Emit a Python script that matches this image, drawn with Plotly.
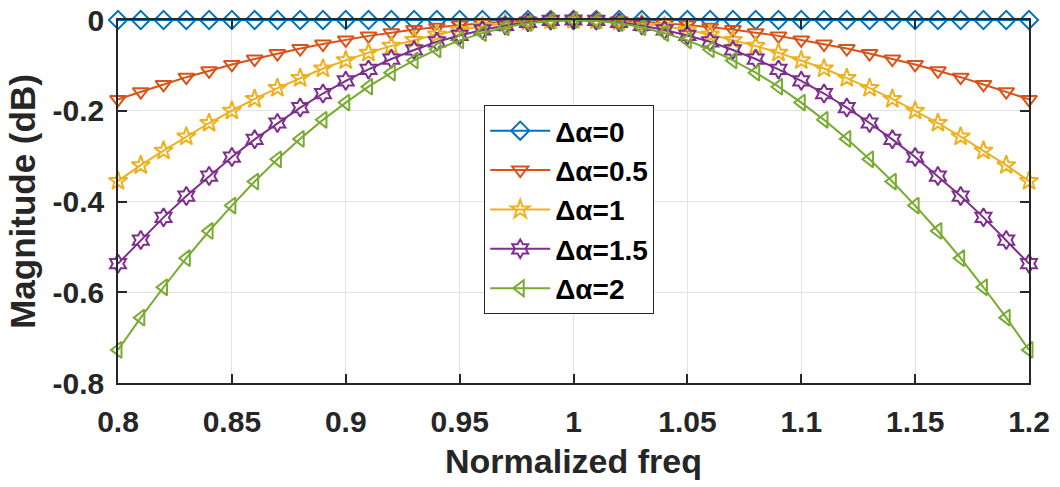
import plotly.graph_objects as go

freq = [0.80, 0.81, 0.82, 0.83, 0.84, 0.85, 0.86, 0.87, 0.88, 0.89, 0.90,
        0.91, 0.92, 0.93, 0.94, 0.95, 0.96, 0.97, 0.98, 0.99, 1.00,
        1.01, 1.02, 1.03, 1.04, 1.05, 1.06, 1.07, 1.08, 1.09, 1.10,
        1.11, 1.12, 1.13, 1.14, 1.15, 1.16, 1.17, 1.18, 1.19, 1.20]

mag_0 = [0.0] * 41

mag_05 = [-0.175, -0.158, -0.142, -0.126, -0.112, -0.098, -0.086, -0.074, -0.063, -0.053, -0.044,
          -0.035, -0.028, -0.021, -0.016, -0.011, -0.007, -0.004, -0.002, -0.0004, 0.0,
          -0.0004, -0.002, -0.004, -0.007, -0.011, -0.016, -0.021, -0.028, -0.035, -0.044,
          -0.053, -0.063, -0.074, -0.086, -0.098, -0.112, -0.126, -0.142, -0.158, -0.175]

mag_1 = [-0.355, -0.320, -0.288, -0.257, -0.227, -0.200, -0.174, -0.150, -0.128, -0.107, -0.089,
         -0.072, -0.057, -0.044, -0.032, -0.022, -0.014, -0.008, -0.004, -0.001, 0.0,
         -0.001, -0.004, -0.008, -0.014, -0.022, -0.032, -0.044, -0.057, -0.072, -0.089,
         -0.107, -0.128, -0.150, -0.174, -0.200, -0.227, -0.257, -0.288, -0.320, -0.355]

mag_15 = [-0.537, -0.485, -0.435, -0.388, -0.344, -0.302, -0.263, -0.227, -0.193, -0.162, -0.134,
          -0.109, -0.086, -0.066, -0.048, -0.034, -0.022, -0.012, -0.005, -0.001, 0.0,
          -0.001, -0.005, -0.012, -0.022, -0.034, -0.048, -0.066, -0.086, -0.109, -0.134,
          -0.162, -0.193, -0.227, -0.263, -0.302, -0.344, -0.388, -0.435, -0.485, -0.537]

mag_2 = [-0.727, -0.656, -0.589, -0.525, -0.465, -0.409, -0.356, -0.307, -0.262, -0.220, -0.182,
         -0.147, -0.116, -0.089, -0.065, -0.045, -0.029, -0.016, -0.007, -0.002, 0.0,
         -0.002, -0.007, -0.016, -0.029, -0.045, -0.065, -0.089, -0.116, -0.147, -0.182,
         -0.220, -0.262, -0.307, -0.356, -0.409, -0.465, -0.525, -0.589, -0.656, -0.727]

names = ["Δα=0", "Δα=0.5", "Δα=1", "Δα=1.5", "Δα=2"]
series = [mag_0, mag_05, mag_1, mag_15, mag_2]
colors = ["#0072BD", "#D95319", "#EDB120", "#7E2F8E", "#77AC30"]
symbols = ["diamond-open", "triangle-down-open", "star-open", "hexagram-open", "triangle-left-open"]

x_ticks = [0.8, 0.85, 0.9, 0.95, 1, 1.05, 1.1, 1.15, 1.2]
x_ticktext = ["0.8", "0.85", "0.9", "0.95", "1", "1.05", "1.1", "1.15", "1.2"]
y_ticks = [-0.8, -0.6, -0.4, -0.2, 0]
y_ticktext = ["-0.8", "-0.6", "-0.4", "-0.2", "0"]

FONT = "Arial, Liberation Sans, Helvetica, sans-serif"
DARK = "#262626"

fig = go.Figure()
for name, ys, c, s in zip(names, series, colors, symbols):
    fig.add_trace(go.Scatter(
        x=freq, y=ys, name=name, mode="lines+markers",
        line=dict(color=c, width=2),
        marker=dict(symbol=s, size=14, color=c, line=dict(color=c, width=2)),
        cliponaxis=False,
    ))

axis_common = dict(
    showline=True, linecolor=DARK, linewidth=1.5, mirror="ticks",
    ticks="inside", ticklen=9, tickwidth=1.5, tickcolor=DARK,
    showgrid=True, gridcolor="#e3e3e3", gridwidth=1, zeroline=False,
    tickfont=dict(family=FONT, size=30, color=DARK, weight="bold"),
    ticklabeloverflow="allow",
    automargin=False,
)

fig.update_layout(
    width=1060, height=487,
    paper_bgcolor="white", plot_bgcolor="white",
    margin=dict(l=118, r=31, t=20, b=104),
    font=dict(family=FONT, color=DARK),
    xaxis=dict(range=[0.8, 1.2], tickvals=x_ticks, ticktext=x_ticktext,
               ticklabelstandoff=11,
               title=dict(text="Normalized freq", standoff=12,
                          font=dict(family=FONT, size=34, color=DARK, weight="bold")),
               **axis_common),
    yaxis=dict(range=[-0.8, 0], tickvals=y_ticks, ticktext=y_ticktext,
               ticklabelstandoff=6,
               title=dict(text="Magnitude (dB)", standoff=6,
                          font=dict(family=FONT, size=35, color=DARK, weight="bold")),
               **axis_common),
    legend=dict(x=0.402, y=0.766, xanchor="left", yanchor="top",
                bgcolor="white", bordercolor=DARK, borderwidth=1,
                font=dict(family=FONT, size=28, color="black", weight="bold"),
                itemwidth=60, tracegroupgap=0),
    showlegend=True,
)

fig.write_html("out.html", config={"displayModeBar": False},
               post_script="document.body.style.margin='0';")
